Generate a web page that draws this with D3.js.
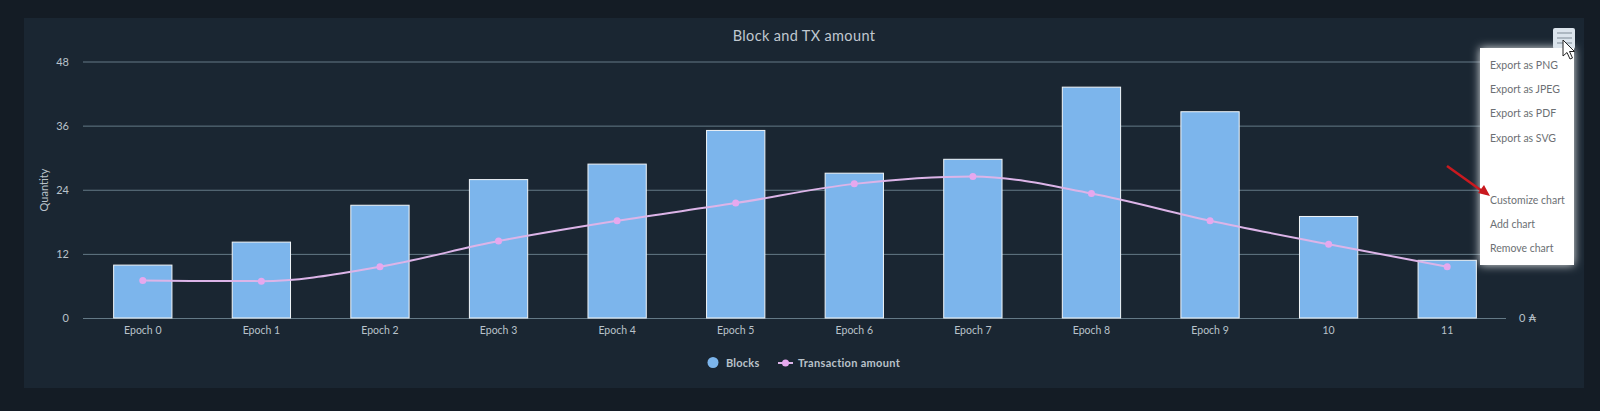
<!DOCTYPE html>
<html>
<head>
<meta charset="utf-8">
<script src="https://cdn.jsdelivr.net/npm/d3@7"></script>
<style>
  html, body { margin: 0; padding: 0; background: #141c25; overflow: hidden; }
  text { font-family: Lato, "Noto Sans", sans-serif; }
</style>
</head>
<body>
<svg id="chart" width="1600" height="411"></svg>
<script>
const categories = ["Epoch 0", "Epoch 1", "Epoch 2", "Epoch 3", "Epoch 4", "Epoch 5", "Epoch 6", "Epoch 7", "Epoch 8", "Epoch 9", "10", "11"];
const blocks = [9.9, 14.2, 21.1, 25.9, 28.8, 35.1, 27.1, 29.7, 43.2, 38.6, 19, 10.8];
const txAmount = [7, 6.9, 9.6, 14.4, 18.2, 21.5, 25.1, 26.5, 23.3, 18.2, 13.8, 9.6];
const yTicks = [0, 12, 24, 36, 48];
const menuTop = ["Export as PNG", "Export as JPEG", "Export as PDF", "Export as SVG"];
const menuBottom = ["Customize chart", "Add chart", "Remove chart"];

const svg = d3.select("#chart");
const textCol = "#b9c2ca";

const defs = svg.append("defs");
defs.append("filter").attr("id", "glow").attr("x", "-30%").attr("y", "-30%").attr("width", "160%").attr("height", "160%")
  .append("feGaussianBlur").attr("stdDeviation", 5);

// panel
svg.append("rect").attr("x", 24).attr("y", 18).attr("width", 1560).attr("height", 370).attr("fill", "#1a2632");

const x = d3.scaleBand().domain(categories).range([83.5, 1506.5]).paddingInner(0.5).paddingOuter(0.25);
const y = d3.scaleLinear().domain([0, 48]).range([318, 61.5]);

svg.append("text").attr("x", 804).attr("y", 41).attr("text-anchor", "middle")
  .attr("font-size", 14.5).attr("fill", "#c0c8d0").attr("letter-spacing", 0.35).text("Block and TX amount");

// grid + left axis
const yAxis = svg.append("g").attr("transform", "translate(83,0)")
  .call(d3.axisLeft(y).tickValues(yTicks).tickSize(0).tickPadding(14));
yAxis.select(".domain").remove();
yAxis.selectAll("text").attr("font-size", 11).attr("fill", textCol).style("font-family", "Lato, sans-serif");
yAxis.selectAll(".tick line").attr("x2", 1423).attr("stroke", "#647986").attr("stroke-width", 1);

svg.append("text").attr("transform", "translate(48,190) rotate(-90)").attr("text-anchor", "middle")
  .attr("font-size", 11).attr("fill", textCol).text("Quantity");

// right axis label
svg.append("text").attr("x", 1519).attr("y", 322).attr("font-size", 11).attr("fill", textCol).text("0 ₳");

// x axis
const xAxis = svg.append("g").attr("transform", "translate(0,318)")
  .call(d3.axisBottom(x).tickSize(0).tickPadding(9));
xAxis.select(".domain").remove();
xAxis.selectAll("text").attr("font-size", 10.5).attr("fill", textCol).style("font-family", "Lato, sans-serif");

// bars, stroke stays inside the band
svg.append("g").selectAll("rect").data(blocks).join("rect")
  .attr("x", (d, i) => x(categories[i]) + 0.5)
  .attr("y", d => y(d))
  .attr("width", x.bandwidth() - 1)
  .attr("height", d => y(0) - y(d))
  .attr("fill", "#7cb5ec")
  .attr("stroke", "#f2f6f9")
  .attr("stroke-width", 1);

// line
const cx = i => x(categories[i]) + x.bandwidth() / 2;
const line = d3.line().x((d, i) => cx(i)).y(d => y(d)).curve(d3.curveMonotoneX);
svg.append("path").datum(txAmount).attr("d", line).attr("fill", "none")
  .attr("stroke", "#dcb4e8").attr("stroke-width", 2);
svg.append("g").selectAll("circle").data(txAmount).join("circle")
  .attr("cx", (d, i) => cx(i)).attr("cy", d => y(d)).attr("r", 3.5).attr("fill", "#e6a8ee");

// legend
const legend = svg.append("g");
legend.append("circle").attr("cx", 713).attr("cy", 362.5).attr("r", 5.5).attr("fill", "#7cb5ec");
legend.append("text").attr("x", 726).attr("y", 366.5).attr("font-size", 11).attr("font-weight", 700)
  .attr("letter-spacing", 0.2).attr("fill", textCol).text("Blocks");
legend.append("line").attr("x1", 778).attr("x2", 793).attr("y1", 363).attr("y2", 363)
  .attr("stroke", "#dcb4e8").attr("stroke-width", 2);
legend.append("circle").attr("cx", 785.5).attr("cy", 363).attr("r", 3.5).attr("fill", "#e6a8ee");
legend.append("text").attr("x", 798).attr("y", 366.5).attr("font-size", 11).attr("font-weight", 700)
  .attr("letter-spacing", 0.3).attr("fill", textCol).text("Transaction amount");

// context menu
svg.append("rect").attr("x", 1480).attr("y", 48).attr("width", 94).attr("height", 217)
  .attr("fill", "#e4e8ea").attr("filter", "url(#glow)");
svg.append("rect").attr("x", 1553).attr("y", 28).attr("width", 22).attr("height", 21).attr("rx", 2).attr("fill", "#dbe4ec");
svg.append("g").selectAll("line").data([0, 1, 2]).join("line")
  .attr("x1", 1557).attr("x2", 1572).attr("y1", d => 33 + d * 5).attr("y2", d => 33 + d * 5)
  .attr("stroke", "#7f8b96").attr("stroke-width", 1);
svg.append("rect").attr("x", 1480).attr("y", 48).attr("width", 94).attr("height", 217).attr("fill", "#fff");

const menuY = d3.scalePoint().domain(d3.range(4)).range([69, 141.5]);
const menuY2 = d3.scalePoint().domain(d3.range(3)).range([204, 252]);
const menu = svg.append("g").attr("font-size", 10.5).attr("fill", "#6c7074");
menu.selectAll(".top").data(menuTop).join("text").attr("x", 1490).attr("y", (d, i) => menuY(i)).text(d => d);
menu.selectAll(".bot").data(menuBottom).join("text").attr("x", 1490).attr("y", (d, i) => menuY2(i)).text(d => d);

// mouse cursor
svg.append("path").attr("d", "M1563,40 l0,16 l4,-3.5 l3,6.5 l2.5,-1 l-3,-6.5 l5,0 z")
  .attr("fill", "#fff").attr("stroke", "#222").attr("stroke-width", 1);

// red annotation arrow
svg.append("line").attr("x1", 1447).attr("y1", 166).attr("x2", 1482).attr("y2", 191)
  .attr("stroke", "#c9191f").attr("stroke-width", 2.5);
svg.append("path").attr("d", "M1490,196 L1478,193 L1484,185 Z").attr("fill", "#c9191f");
</script>
</body>
</html>
